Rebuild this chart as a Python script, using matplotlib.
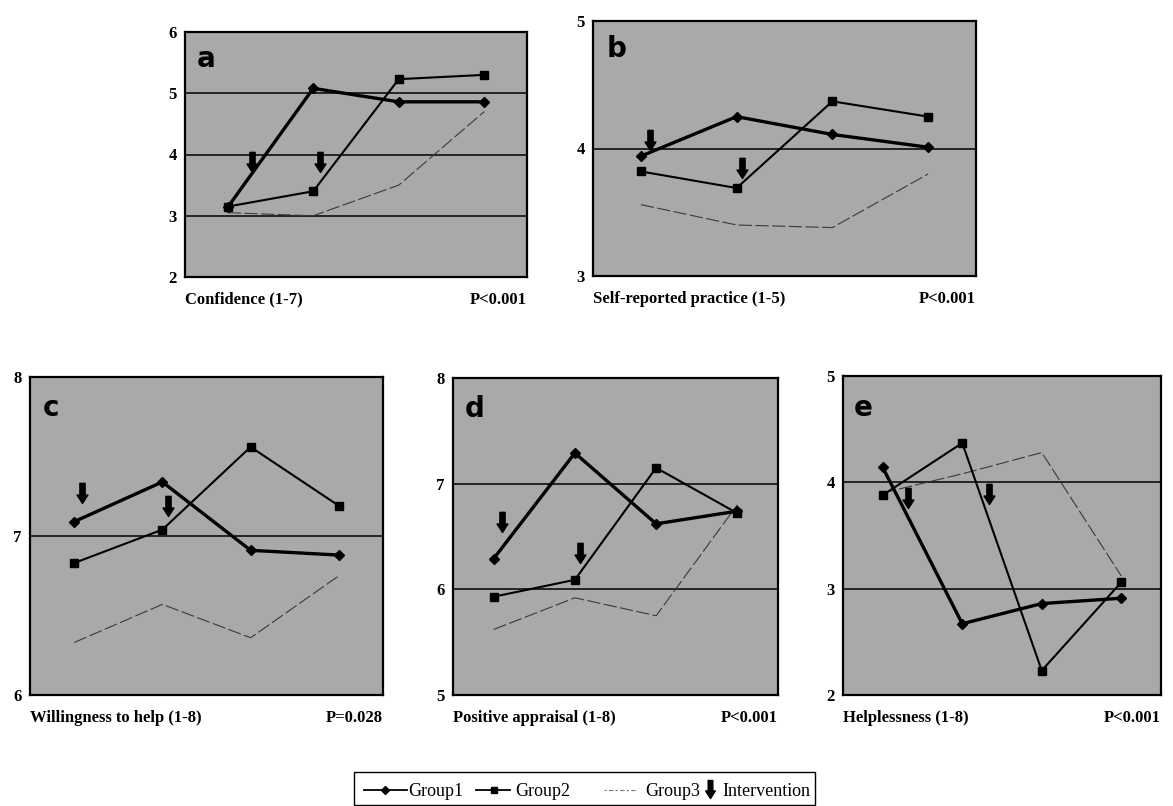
import matplotlib
matplotlib.use("Agg")
import matplotlib.pyplot as plt
from matplotlib.path import Path
from matplotlib.lines import Line2D
from matplotlib.patches import Rectangle
import matplotlib.transforms as mtransforms

# ---------------- data ----------------
timepoints = [1, 2, 3, 4]

titles = ["Confidence (1-7)", "Self-reported practice (1-5)",
          "Willingness to help (1-8)", "Positive appraisal (1-8)",
          "Helplessness (1-8)"]
pvalues = ["P<0.001", "P<0.001", "P=0.028", "P<0.001", "P<0.001"]
letters = ["a", "b", "c", "d", "e"]
legend_labels = ["Group1", "Group2", "Group3", "Intervention"]

yticks_a = [2, 3, 4, 5, 6]
yticks_b = [3, 4, 5]
yticks_c = [6, 7, 8]
yticks_d = [5, 6, 7, 8]
yticks_e = [2, 3, 4, 5]

g1_a = [3.14, 5.08, 4.86, 4.86]
g2_a = [3.15, 3.40, 5.23, 5.30]
g3_a = [3.05, 3.00, 3.50, 4.70]

g1_b = [3.94, 4.25, 4.11, 4.01]
g2_b = [3.82, 3.69, 4.37, 4.25]
g3_b = [3.56, 3.40, 3.38, 3.80]

g1_c = [7.09, 7.34, 6.91, 6.88]
g2_c = [6.83, 7.04, 7.56, 7.19]
g3_c = [6.33, 6.57, 6.36, 6.75]

g1_d = [6.29, 7.29, 6.62, 6.74]
g2_d = [5.93, 6.09, 7.15, 6.72]
g3_d = [5.62, 5.92, 5.75, 6.80]

g1_e = [4.14, 2.67, 2.86, 2.91]
g2_e = [3.88, 4.37, 2.23, 3.06]
g3_e = [3.90, 4.08, 4.28, 3.12]

# intervention arrows: x position and tip value
arrow_x_a = [1.28, 2.08]; arrow_y_a = [3.71, 3.71]
arrow_x_b = [1.10, 2.06]; arrow_y_b = [3.99, 3.77]
arrow_x_c = [1.09, 2.06]; arrow_y_c = [7.21, 7.125]
arrow_x_d = [1.10, 2.06]; arrow_y_d = [6.54, 6.25]
arrow_x_e = [1.32, 2.34]; arrow_y_e = [3.76, 3.80]

panels = [
    (g1_a, g2_a, g3_a, yticks_a, arrow_x_a, arrow_y_a),
    (g1_b, g2_b, g3_b, yticks_b, arrow_x_b, arrow_y_b),
    (g1_c, g2_c, g3_c, yticks_c, arrow_x_c, arrow_y_c),
    (g1_d, g2_d, g3_d, yticks_d, arrow_x_d, arrow_y_d),
    (g1_e, g2_e, g3_e, yticks_e, arrow_x_e, arrow_y_e),
]

# ---------------- layout (pixels: left, top, right, bottom) ----------------
W, H = 1173, 806
boxes_px = [(185, 32, 527, 277),
            (593, 21, 976, 276),
            (30, 377, 383, 695),
            (453, 378, 778, 695),
            (843, 376, 1161, 695)]

SERIF = ["Liberation Serif", "DejaVu Serif"]
BG = "#a9a9a9"
G3_COLOR = "#3a3a3a"

# arrow marker with its tip at the origin (pointing down)
arrow_tip_verts = [(0, 0), (0.27, 0.42), (0.13, 0.42), (0.13, 1.0),
                   (-0.13, 1.0), (-0.13, 0.42), (-0.27, 0.42), (0, 0)]
arrow_tip_path = Path(arrow_tip_verts, closed=True)
arrow_mid_verts = [(x, y - 0.5) for x, y in arrow_tip_verts]
arrow_mid_path = Path(arrow_mid_verts, closed=True)

fig = plt.figure(figsize=(W / 100, H / 100), dpi=100)

for i, (g1, g2, g3, yt, ax_x, ax_y) in enumerate(panels):
    l, t, r, b = boxes_px[i]
    ax = fig.add_axes([l / W, 1 - b / H, (r - l) / W, (b - t) / H])
    ax.set_facecolor(BG)
    ax.set_xlim(0.5, 4.5)
    ax.set_ylim(yt[0], yt[-1])
    ax.set_yticks(yt)
    ax.set_yticklabels([str(v) for v in yt], fontfamily=SERIF,
                       fontweight="bold", fontsize=12)
    ax.set_xticks([])
    ax.tick_params(axis="y", length=0, pad=6)
    for s in ax.spines.values():
        s.set_linewidth(1.6)
        s.set_color("black")
    for v in yt[1:-1]:
        ax.axhline(v, color="black", lw=1.1, zorder=1)

    ax.plot(timepoints, g3, color=G3_COLOR, lw=0.8,
            linestyle=(0, (12, 3)), zorder=2)
    ax.plot(timepoints, g2, color="black", lw=1.5, marker="s", ms=6,
            zorder=3)
    ax.plot(timepoints, g1, color="black", lw=2.4, marker="D", ms=5.5,
            zorder=4)
    ax.plot(ax_x, ax_y, ls="none", marker=arrow_tip_path, ms=29,
            color="black", zorder=5)

    ax.text(0.035, 0.945, letters[i], transform=ax.transAxes,
            fontsize=20, fontweight="bold", family="DejaVu Sans",
            va="top", ha="left", zorder=6)

    off = mtransforms.offset_copy(ax.transAxes, fig=fig, x=0, y=-10.5,
                                  units="points")
    ax.text(0, 0, titles[i], transform=off, ha="left", va="top",
            fontfamily=SERIF, fontweight="bold", fontsize=12)
    ax.text(1.0, 0, pvalues[i], transform=off, ha="right", va="top",
            fontfamily=SERIF, fontweight="bold", fontsize=12)

# ---------------- legend (hand-placed, figure pixel coords) ----------------
def fx(px):
    return px / W


def fy(py):
    return 1 - py / H


fig.add_artist(Rectangle((fx(354), fy(805)), fx(815) - fx(354),
                         fy(772) - fy(805), transform=fig.transFigure,
                         fill=False, edgecolor="black", lw=1.0))
ly = fy(790)
fig.add_artist(Line2D([fx(364), fx(407)], [ly, ly], color="black", lw=1.3,
                      transform=fig.transFigure))
fig.add_artist(Line2D([fx(385)], [ly], color="black", marker="D", ms=4.5,
                      transform=fig.transFigure))
fig.add_artist(Line2D([fx(476), fx(510)], [ly, ly], color="black", lw=1.3,
                      transform=fig.transFigure))
fig.add_artist(Line2D([fx(494)], [ly], color="black", marker="s", ms=4.5,
                      transform=fig.transFigure))
fig.add_artist(Line2D([fx(604), fx(637)], [ly, ly], color="#777777", lw=0.8,
                      linestyle=(0, (2, 2, 4, 2)),
                      transform=fig.transFigure))
fig.add_artist(Line2D([fx(710)], [fy(789)], color="black",
                      marker=arrow_mid_path, ms=13, ls="none",
                      transform=fig.transFigure))
for xpx, lab in zip([408, 515, 645, 722], legend_labels):
    fig.text(fx(xpx), fy(791), lab, ha="left", va="center",
             fontfamily=SERIF, fontsize=13)

fig.savefig("out.png", dpi=100)
